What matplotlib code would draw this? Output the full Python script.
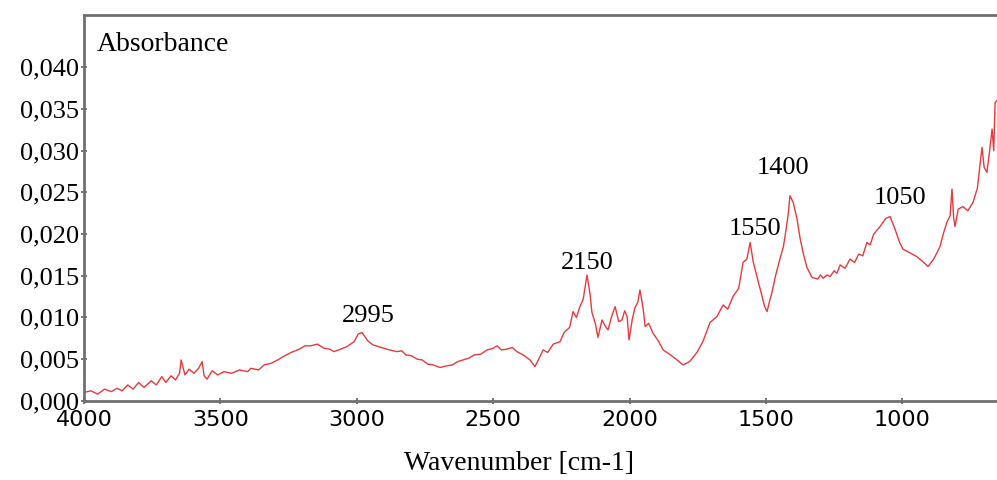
import matplotlib
matplotlib.use("Agg")
import matplotlib.pyplot as plt
from matplotlib.ticker import FuncFormatter
from matplotlib.transforms import ScaledTranslation

# wavenumber (cm-1) and absorbance
wavenumber = [4000, 3975, 3950, 3925, 3900, 3879, 3860, 3840, 3820, 3800,
              3780, 3754, 3735, 3715, 3700, 3681, 3665, 3650, 3644, 3630,
              3615, 3597, 3580, 3567, 3560, 3549, 3530, 3510, 3487, 3460,
              3430, 3400, 3388, 3360, 3340, 3314, 3290, 3270, 3241, 3210,
              3190, 3168, 3145, 3120, 3100, 3083, 3060, 3036, 3010, 2995,
              2981, 2960, 2941, 2900, 2880, 2853, 2835, 2820, 2800, 2779,
              2760, 2740, 2720, 2695, 2670, 2650, 2630, 2611, 2590, 2570,
              2545, 2523, 2500, 2486, 2470, 2450, 2430, 2413, 2390, 2365,
              2347, 2330, 2317, 2300, 2280, 2255, 2240, 2220, 2207, 2195,
              2182, 2170, 2156, 2145, 2138, 2125, 2116, 2101, 2090, 2079,
              2065, 2053, 2040, 2028, 2018, 2009, 2002, 1990, 1980, 1970,
              1962, 1950, 1943, 1930, 1914, 1895, 1877, 1850, 1826, 1804,
              1780, 1753, 1730, 1705, 1680, 1657, 1640, 1621, 1600, 1584,
              1570, 1558, 1547, 1530, 1514, 1505, 1496, 1488, 1478, 1465,
              1449, 1436, 1426, 1418, 1412, 1400, 1386, 1375, 1364, 1350,
              1331, 1310, 1300, 1290, 1276, 1265, 1250, 1240, 1228, 1210,
              1192, 1175, 1160, 1145, 1130, 1118, 1105, 1082, 1060, 1045,
              1027, 1010, 998, 975, 947, 925, 906, 885, 862, 850,
              837, 825, 818, 812, 807, 795, 778, 760, 741, 725,
              708, 700, 690, 680, 671, 665, 660, 653]

absorbance = [0.0010, 0.0012, 0.0008, 0.0014, 0.0011, 0.0015, 0.0012, 0.0019, 0.0014, 0.0022,
              0.0016, 0.0024, 0.0019, 0.0029, 0.0022, 0.0030, 0.0025, 0.0033, 0.0049, 0.0031,
              0.0038, 0.0033, 0.0039, 0.0047, 0.0030, 0.0026, 0.0036, 0.0031, 0.0035, 0.0033,
              0.0037, 0.0035, 0.0039, 0.0037, 0.0043, 0.0045, 0.0049, 0.0053, 0.0058, 0.0062,
              0.0066, 0.0066, 0.0068, 0.0063, 0.0062, 0.0059, 0.0062, 0.0065, 0.0071, 0.0080,
              0.0082, 0.0072, 0.0067, 0.0063, 0.0061, 0.0059, 0.0060, 0.0055, 0.0054, 0.0050,
              0.0049, 0.0044, 0.0043, 0.0040, 0.0042, 0.0043, 0.0047, 0.0049, 0.0051, 0.0055,
              0.0056, 0.0061, 0.0063, 0.0066, 0.0061, 0.0062, 0.0064, 0.0059, 0.0055, 0.0049,
              0.0041, 0.0052, 0.0061, 0.0058, 0.0068, 0.0071, 0.0082, 0.0088, 0.0107, 0.0100,
              0.0113, 0.0122, 0.0151, 0.0128, 0.0106, 0.0092, 0.0076, 0.0097, 0.0090, 0.0085,
              0.0102, 0.0113, 0.0095, 0.0097, 0.0108, 0.0101, 0.0073, 0.0098, 0.0112, 0.0118,
              0.0133, 0.0110, 0.0089, 0.0093, 0.0081, 0.0072, 0.0061, 0.0055, 0.0049, 0.0043,
              0.0047, 0.0058, 0.0072, 0.0094, 0.0101, 0.0115, 0.0110, 0.0125, 0.0135, 0.0166,
              0.0170, 0.0190, 0.0167, 0.0145, 0.0125, 0.0113, 0.0107, 0.0118, 0.0130, 0.0150,
              0.0170, 0.0185, 0.0206, 0.0225, 0.0246, 0.0238, 0.0218, 0.0195, 0.0178, 0.0160,
              0.0148, 0.0146, 0.0151, 0.0147, 0.0151, 0.0149, 0.0156, 0.0153, 0.0163, 0.0159,
              0.0170, 0.0166, 0.0176, 0.0174, 0.0190, 0.0187, 0.0200, 0.0209, 0.0219, 0.0221,
              0.0206, 0.0190, 0.0182, 0.0178, 0.0173, 0.0167, 0.0161, 0.0170, 0.0185, 0.0200,
              0.0214, 0.0222, 0.0254, 0.0220, 0.0209, 0.0230, 0.0233, 0.0228, 0.0238, 0.0255,
              0.0304, 0.0280, 0.0274, 0.0300, 0.0326, 0.0300, 0.0358, 0.0360]

# peak labels
peak_labels = ["2995", "2150", "1550", "1400", "1050"]
peak_x = [2959, 2156, 1540, 1437, 1008]
peak_y = [0.0102, 0.0165, 0.0206, 0.0279, 0.0243]

x_ticks = [4000, 3500, 3000, 2500, 2000, 1500, 1000]
y_ticks = [0.000, 0.005, 0.010, 0.015, 0.020, 0.025, 0.030, 0.035, 0.040]

fig = plt.figure(figsize=(9.97, 4.8), dpi=100)
ax = fig.add_axes([0.0843, 0.165, 0.9157, 0.804])

ax.plot(wavenumber, absorbance, color="#e63a40", lw=1.0)

ax.set_xlim(4000, 653)
ax.set_ylim(0, 0.0463)
ax.set_xticks(x_ticks)
ax.set_yticks(y_ticks)
ax.yaxis.set_major_formatter(FuncFormatter(lambda v, p: f"{v:.3f}".replace(".", ",")))

for lab in ax.get_xticklabels():
    lab.set_fontfamily("DejaVu Sans")
    lab.set_fontsize(16)
for lab in ax.get_yticklabels():
    lab.set_fontfamily("Liberation Serif")
    lab.set_fontsize(19)

# the 0,000 label sits a bit above its tick in the original
lab0 = ax.get_yticklabels()[0]
lab0.set_transform(lab0.get_transform() + ScaledTranslation(0, 7 / 100, fig.dpi_scale_trans))

ax.tick_params(axis="both", direction="inout", length=5, width=1.2, color="#606060")
ax.tick_params(axis="x", pad=4)
ax.tick_params(axis="y", pad=1)

for side in ["left", "bottom", "top"]:
    ax.spines[side].set_color("#707070")
    ax.spines[side].set_linewidth(2)
ax.spines["right"].set_visible(False)

for lab, x, y in zip(peak_labels, peak_x, peak_y):
    ax.text(x, y, lab, ha="center", va="center", fontsize=19,
            fontfamily="Liberation Serif")

ax.text(0.014, 0.922, "Absorbance", transform=ax.transAxes, ha="left", va="center",
        fontsize=20, fontfamily="Liberation Serif")

fig.text(0.521, 0.035, "Wavenumber [cm-1]", ha="center", va="center",
         fontsize=20, fontfamily="Liberation Serif")

fig.savefig("out.png", dpi=100)
